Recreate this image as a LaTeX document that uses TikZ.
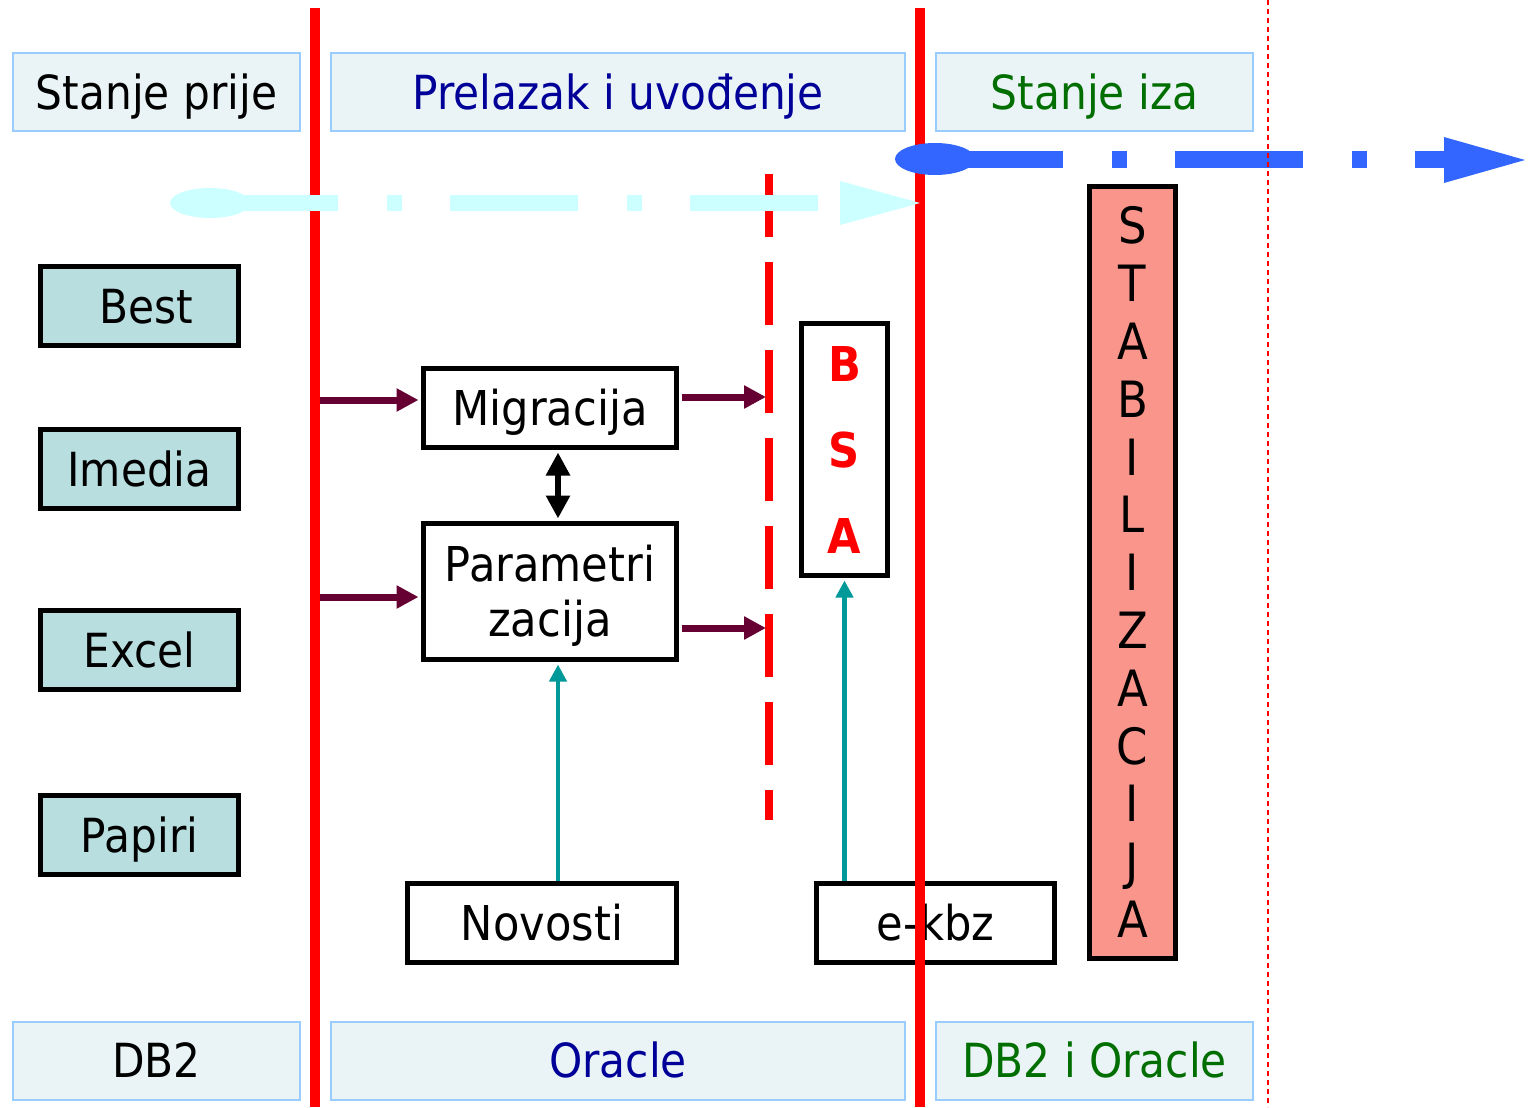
\documentclass[tikz,border=0pt]{standalone}
\usepackage{fontspec}
\setmainfont[FakeStretch=0.9]{DejaVu Sans}
\usetikzlibrary{arrows.meta}
\definecolor{hdrfill}{HTML}{EAF4F6}
\definecolor{hdrline}{HTML}{99CCFF}
\definecolor{srcfill}{HTML}{B8DEE0}
\definecolor{salmon}{HTML}{F9958A}
\definecolor{maroon}{HTML}{660033}
\definecolor{tealc}{HTML}{009999}
\definecolor{dblue}{HTML}{000099}
\definecolor{dgreen}{HTML}{006E00}
\definecolor{cyanc}{HTML}{CCFFFF}
\definecolor{bluec}{HTML}{3366FF}
\definecolor{redc}{HTML}{FF0000}
\tikzset{
  hdr/.style={draw=hdrline, line width=1pt, fill=hdrfill, minimum height=39pt, inner sep=0pt,
    font=\fontsize{23.5}{27}\selectfont, text height=17.1pt, text depth=0pt},
  src/.style={draw=black, line width=2.5pt, fill=srcfill, minimum width=99pt, minimum height=39.5pt,
    inner sep=0pt, font=\fontsize{23.5}{27}\selectfont, text height=17.3pt, text depth=0pt},
  proc/.style={draw=black, line width=2.5pt, fill=white, minimum height=39.5pt, inner sep=0pt,
    font=\fontsize{24}{27.5}\selectfont, align=center, text height=17.5pt, text depth=0pt},
  marr/.style={draw=maroon, line width=3.5pt, -{Triangle[length=11pt,width=11pt]}},
  darr/.style={draw=black, line width=3pt, {Triangle[length=11.5pt,width=11.5pt]}-{Triangle[length=11.5pt,width=11.5pt]}},
  tarr/.style={draw=tealc, line width=2.2pt, -{Triangle[length=8.5pt,width=8.5pt]}},
  redthick/.style={draw=redc, line width=5pt},
}
\begin{document}
\begin{tikzpicture}[x=0.5pt,y=-0.5pt]
\useasboundingbox (0,0) rectangle (1529,1107);
% headers and footers
\node[hdr, minimum width=143.5pt] (h1) at (156.5,92) {Stanje prije};
\node[hdr, minimum width=287pt, text=dblue] (h2) at (618,92) {Prelazak i uvođenje};
\node[hdr, minimum width=158.5pt, text=dgreen] (h3) at (1094.5,92) {Stanje iza};
\node[hdr, minimum width=143.5pt] (f1) at (156.5,1060.5) {DB2};
\node[hdr, minimum width=287pt, text=dblue] (f2) at (618,1060.5) {Oracle};
\node[hdr, minimum width=158.5pt, text=dgreen] (f3) at (1094.5,1060.5) {DB2 i Oracle};
% source boxes
\node[src] (best) at (139.5,306) {\hspace*{7pt}Best};
\node[src] (imedia) at (139.5,469) {Imedia};
\node[src] (excel) at (139.5,650) {Excel};
\node[src] (papiri) at (139.5,835) {Papiri};
% process boxes
\node[proc, minimum width=126.5pt] (migr) at (550,408) {Migracija};
\node[proc, minimum width=126.5pt, minimum height=68pt, text height=45pt] (param) at (550,591.5) {Parametri\\zacija};
\node[proc, minimum width=134.5pt] (novosti) at (542,923) {Novosti};
\node[proc, minimum width=119pt] (ekbz) at (935.5,923) {e-kbz};
\node[proc, minimum width=43pt, minimum height=126pt, text=redc,
      font=\fontsize{24}{43}\selectfont\bfseries, text height=103.5pt] (bsa) at (844.5,449.5) {B\\S\\A};
\node[proc, fill=salmon, minimum width=43pt, minimum height=386pt,
      font=\fontsize{25}{28.9}\selectfont, text height=365pt] (stab) at (1132.5,572.5)
      {S\\T\\A\\B\\I\\L\\I\\Z\\A\\C\\I\\J\\A};
% red phase lines
\coordinate (ra1) at (315,8); \coordinate (ra2) at (315,1107);
\coordinate (rb1) at (920,8); \coordinate (rb2) at (920,1107);
\draw[redthick] (ra1) -- (ra2);
\draw[redthick] (rb1) -- (rb2);
\coordinate (rc1) at (769,174); \coordinate (rc2) at (769,820);
\draw[draw=redc, line width=4pt, dash pattern=on 31.5pt off 12.5pt] (rc1) -- (rc2);
% cyan timeline arrow
\coordinate (cy1) at (210,203); \coordinate (cy2) at (818,203);
\fill[cyanc] (cy1) ellipse [x radius=20pt, y radius=7.5pt];
\draw[draw=cyanc, line width=8pt, dash pattern=on 64pt off 24.5pt on 7.5pt off 24pt] (cy1) -- (cy2);
\fill[cyanc] (840,181) -- (920,203) -- (840,225) -- cycle;
% blue timeline arrow
\coordinate (bl1) at (935,160); \coordinate (bl2) at (1446,160);
\fill[bluec] (935,159) ellipse [x radius=20pt, y radius=8pt];
\draw[draw=bluec, line width=8.5pt, dash pattern=on 64pt off 24.5pt on 7.5pt off 24pt] (bl1) -- (bl2);
\fill[bluec] (1444,137) -- (1525,160) -- (1444,183) -- cycle;
% thin red dashed line
\coordinate (rd1) at (1268,0); \coordinate (rd2) at (1268,1107);
\draw[draw=redc, line width=1.2pt, dash pattern=on 2.5pt off 2pt] (rd1) -- (rd2);
% connectors
\coordinate (min) at (320,400);
\draw[marr, shorten >=1.25pt] (min) -- (min -| migr.west);
\coordinate (mout) at (766,397);
\draw[marr, shorten <=1.25pt] (migr.east |- mout) -- (mout);
\coordinate (pin) at (320,597);
\draw[marr, shorten >=1.25pt] (pin) -- (pin -| param.west);
\coordinate (pout) at (766,628);
\draw[marr, shorten <=1.25pt] (param.east |- pout) -- (pout);
\draw[darr, shorten >=1.25pt, shorten <=1.25pt] ([xshift=4pt]migr.south) -- ([xshift=4pt]param.north);
\draw[tarr, shorten >=1.25pt] ([xshift=8pt]novosti.north) -- ([xshift=4pt]param.south);
\draw[tarr, shorten >=1.25pt] (bsa.south |- ekbz.north) -- (bsa.south);
\end{tikzpicture}
\end{document}
